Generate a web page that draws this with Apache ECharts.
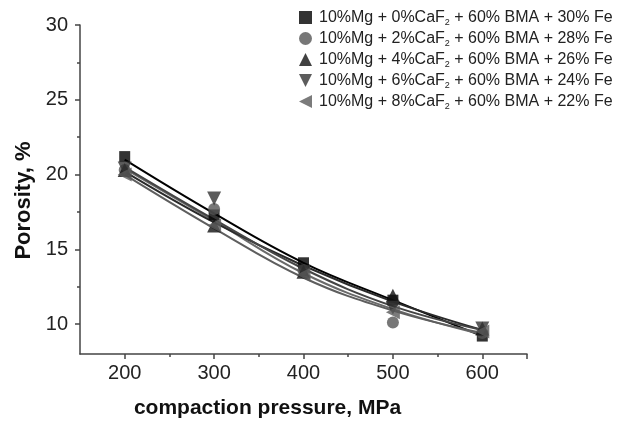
<!DOCTYPE html>
<html><head><meta charset="utf-8">
<script src="https://cdn.jsdelivr.net/npm/echarts@6/dist/echarts.min.js"></script>
<style>html,body{margin:0;padding:0;background:#fff}#c{width:626px;height:424px}</style>
</head><body><div id="c"></div>
<script>
// Data
var pressure = [200, 300, 400, 500, 600];
var names = [
  '10%Mg + 0%CaF2 + 60% BMA + 30% Fe',
  '10%Mg + 2%CaF2 + 60% BMA + 28% Fe',
  '10%Mg + 4%CaF2 + 60% BMA + 26% Fe',
  '10%Mg + 6%CaF2 + 60% BMA + 24% Fe',
  '10%Mg + 8%CaF2 + 60% BMA + 22% Fe'
];
var caf0 = [21.2, 17.3, 14.1, 11.6, 9.2];
var caf2 = [20.3, 17.7, 13.6, 10.1, 9.4];
var caf4 = [20.3, 16.6, 13.5, 11.9, 9.7];
var caf6 = [20.4, 18.4, 13.5, 11.1, 9.7];
var caf8 = [20.0, 16.6, 13.3, 10.8, 9.5];
// fitted curves
var fit0 = [21.0, 17.4, 14.1, 11.6, 9.2];
var fit2 = [20.4, 16.9, 13.4, 11.0, 9.3];
var fit4 = [20.2, 16.8, 13.9, 11.5, 9.6];
var fit6 = [20.5, 17.0, 13.7, 11.2, 9.6];
var fit8 = [20.0, 16.4, 13.1, 10.9, 9.4];
var yLabels = [10, 15, 20, 25, 30];
var yMinor = [12.5, 17.5, 22.5, 27.5];
var xLabels = [200, 300, 400, 500, 600];
var xMinor = [250, 350, 450, 550];

var points = [caf0, caf2, caf4, caf6, caf8];
var fits = [fit0, fit2, fit4, fit6, fit8];
var symbols = ['rect', 'circle', 'triangle', 'path://M0,0 L10,0 L5,10 Z', 'path://M10,0 L10,10 L0,5 Z'];
var sizes = [11, 12, 14, 14, 14];
var markColors = ['#000000', '#555555', '#111111', '#333333', '#5a5a5a'];
var lineColors = ['#000000', '#6a6a6a', '#2a2a2a', '#444444', '#5e5e5e'];

function pairs(arr){ return pressure.map(function(x,i){ return [x, arr[i]]; }); }

var series = [];
fits.forEach(function(f, i){
  series.push({type:'line', name:'fit'+i, data:pairs(f), smooth:0.4, showSymbol:false, symbol:'none',
    lineStyle:{color:lineColors[i], width:2}, z:2, silent:true});
});
points.forEach(function(p, i){
  series.push({type:'scatter', name:names[i], data:pairs(p), symbol:symbols[i], symbolSize:sizes[i],
    itemStyle:{color:markColors[i]}, z:3});
});
// minor tick carrier
series.push({type:'line', xAxisIndex:1, yAxisIndex:1, data:[], silent:true});

var axisCol = '#444';
var font = 'Liberation Sans, Arial';
var chart = echarts.init(document.getElementById('c'));
chart.setOption({
  animation:false,
  backgroundColor:'#fff',
  grid:{left:80, right:99, top:25, bottom:68},
  legend:{
    data: names.map(function(n,i){ return {name:n, icon:symbols[i]}; }),
    orient:'vertical', left:294, top:3, itemGap:2, itemWidth:13, itemHeight:13,
    formatter:function(n){ return n.replace('CaF2', 'CaF{s|2}'); },
    textStyle:{fontFamily:font, fontSize:16, color:'#222', lineHeight:14, padding:[0,0,0,2],
      rich:{s:{fontSize:9, color:'#222', padding:[10,0,0,0], lineHeight:14}}}
  },
  xAxis:[{
    type:'value', min:150, max:650, interval:50,
    splitLine:{show:false},
    axisLine:{lineStyle:{color:axisCol, width:1.5}},
    axisTick:{customValues:xLabels.concat([650]), length:5, lineStyle:{color:axisCol, width:1.5}},
    axisLabel:{customValues:xLabels, fontFamily:font, fontSize:20, color:'#222', margin:9},
    name:'compaction pressure, MPa', nameLocation:'middle', nameGap:44,
    nameTextStyle:{fontFamily:font, fontSize:21, fontWeight:'bold', color:'#111', padding:[0,72,0,0]}
  },{
    type:'value', min:150, max:650, position:'bottom',
    splitLine:{show:false}, axisLine:{show:false},
    axisTick:{customValues:xMinor, length:3, lineStyle:{color:axisCol, width:1.5}},
    axisLabel:{show:false}
  }],
  yAxis:[{
    type:'value', min:8, max:30,
    splitLine:{show:false},
    axisLine:{show:true, lineStyle:{color:axisCol, width:1.5}},
    axisTick:{show:true, customValues:yLabels, length:5, lineStyle:{color:axisCol, width:1.5}},
    axisLabel:{customValues:yLabels, fontFamily:font, fontSize:20, color:'#222', margin:12},
    name:'Porosity, %', nameLocation:'middle', nameGap:41,
    nameTextStyle:{fontFamily:font, fontSize:22, fontWeight:'bold', color:'#111', padding:[0,22,0,0]}
  },{
    type:'value', min:8, max:30, position:'left',
    splitLine:{show:false}, axisLine:{show:false},
    axisTick:{show:true, customValues:yMinor, length:3, lineStyle:{color:axisCol, width:1.5}},
    axisLabel:{show:false}
  }],
  series:series
});
</script></body></html>
